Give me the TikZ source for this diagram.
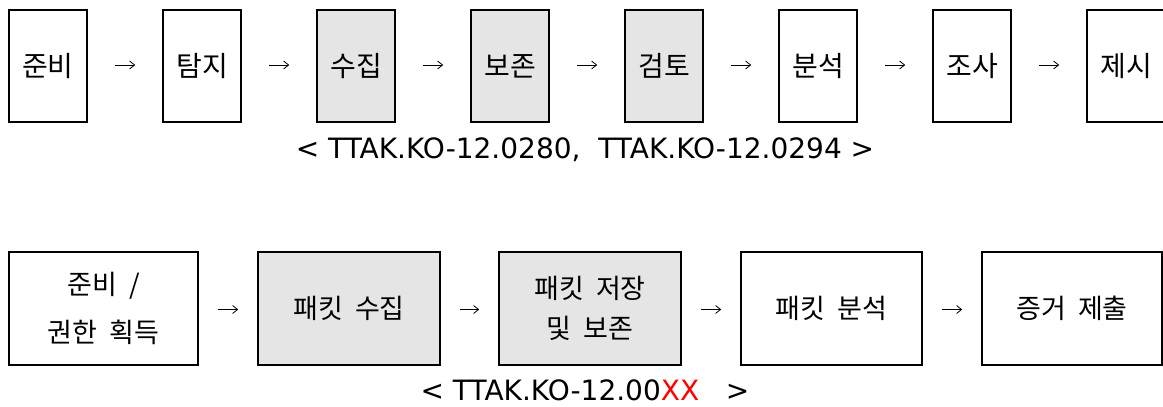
\documentclass[tikz,border=0pt]{standalone}
\usepackage{fontspec}
\setmainfont{Noto Sans CJK KR}
\newfontfamily\capfont{DejaVu Sans}
\usetikzlibrary{arrows.meta}
\definecolor{boxgray}{HTML}{E5E5E5}
\definecolor{xxred}{HTML}{FF0000}
\newcommand{\ksp}{\hspace{0.45em}}
\tikzset{
  tbox/.style={draw=black, line width=1.6pt, minimum width=78pt, minimum height=112pt, inner sep=0pt, font=\fontsize{28}{32}\selectfont},
  bbox/.style={draw=black, line width=1.6pt, minimum height=113pt, inner sep=0pt, align=center, font=\fontsize{27}{45}\selectfont},
  shaded/.style={fill=boxgray},
  flow/.style={line width=0.8pt, -{Straight Barb[length=5pt,width=8pt,line width=0.8pt]}},
  caption/.style={inner sep=0pt, font=\capfont\fontsize{28}{32}\selectfont}
}
\begin{document}
\begin{tikzpicture}[x=1pt,y=-1pt]
\useasboundingbox (0,0) rectangle (1163,407);
\begin{scope}
\clip (0,0) rectangle (1163,407);
% top row
\node[tbox] (t1) at (48,66) {준비};
\node[tbox] (t2) at (202,66) {탐지};
\node[tbox,shaded] (t3) at (356,66) {수집};
\node[tbox,shaded] (t4) at (510,66) {보존};
\node[tbox,shaded] (t5) at (664,66) {검토};
\node[tbox] (t6) at (818,66) {분석};
\node[tbox] (t7) at (972,66) {조사};
\node[tbox] (t8) at (1126,66) {제시};
\foreach \a/\b in {t1/t2,t2/t3,t3/t4,t4/t5,t5/t6,t6/t7,t7/t8}
  \draw[flow, shorten <=27pt, shorten >=27pt] ([yshift=1pt]\a.east) -- ([yshift=1pt]\b.west);
\node[caption] (c1) at (585,150) {<\ TTAK.KO-12.0280,\ \ TTAK.KO-12.0294\ >};
% bottom row
\node[bbox, minimum width=189pt] (b1) at (103.5,308.5) {\raisebox{3pt}{준비\ksp/}\\권한\ksp 획득};
\node[bbox, shaded, minimum width=182pt] (b2) at (349,308.5) {패킷\ksp 수집};
\node[bbox, shaded, minimum width=182pt, font=\fontsize{27}{40}\selectfont] (b3) at (590,308.5) {패킷\ksp 저장\\및\ksp 보존};
\node[bbox, minimum width=181pt] (b4) at (831.5,308.5) {패킷\ksp 분석};
\node[bbox, minimum width=180pt] (b5) at (1072,308.5) {증거\ksp 제출};
\foreach \a/\b in {b1/b2,b2/b3,b3/b4,b4/b5}
  \draw[flow, shorten <=19pt, shorten >=19pt] ([yshift=-1pt]\a.east) -- ([yshift=-1pt]\b.west);
\node[caption] (c2) at (585,390) {<\ TTAK.KO-12.00\textcolor{xxred}{XX}\ \ \ >};
\end{scope}
\end{tikzpicture}
\end{document}
